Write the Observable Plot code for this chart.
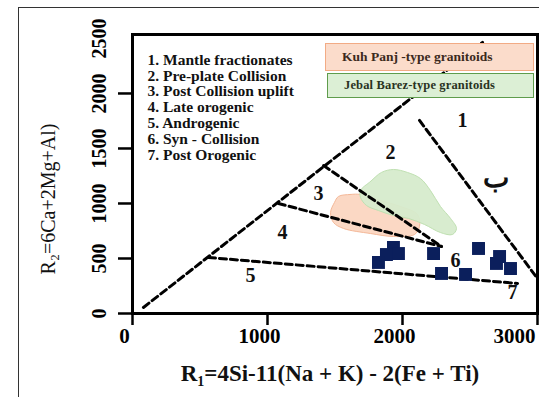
<!DOCTYPE html>
<html>
<head>
<meta charset="utf-8">
<script src="https://cdn.jsdelivr.net/npm/d3@7"></script>
<script src="https://cdn.jsdelivr.net/npm/@observablehq/plot@0.6"></script>
<style>
  html, body { margin: 0; padding: 0; background: #fff; overflow: hidden; }
  #wrap { position: relative; width: 539px; height: 397px; }
  #outer { position: absolute; left: 18px; top: 7px; width: 600px; height: 500px;
           border-left: 1.5px solid #333; border-top: 1.5px solid #333; pointer-events: none; }
  .lg { position: absolute; box-sizing: border-box; font-family: "Liberation Serif", serif;
        font-weight: bold; display: flex; align-items: center; padding-left: 16px; white-space: nowrap; }
  #lgKuh { left: 325px; top: 43px; width: 209px; height: 28px; background: #fbdccb;
           border: 1.5px solid #f2ab85; font-size: 13.5px; color: #3b2a20; }
  #lgJeb { left: 327px; top: 73px; width: 207px; height: 25px; background: #dcefd5;
           border: 1.5px solid #5f9c4c; font-size: 12.5px; letter-spacing: 0.15px; color: #2a3322; }
</style>
</head>
<body>
<div id="wrap"></div>
<script>
// Axis ticks
const xTicks = [0, 1000, 2000, 3000];
const yTickMarks = [0, 500, 1000, 1500, 2000];
const yTickLabels = [0, 500, 1000, 1500, 2000, 2500];

// Field list
const fieldNames = [
  "1. Mantle fractionates",
  "2. Pre-plate Collision",
  "3. Post Collision uplift",
  "4. Late orogenic",
  "5. Androgenic",
  "6. Syn - Collision",
  "7. Post Orogenic"
];
const legendNames = ["Kuh Panj -type granitoids", "Jebal Barez-type granitoids"];

// Field boundaries (R1, R2)
const lineMain = [[81, 55], [2593, 2464]];
const line5 = [[563, 509], [2852, 273]];
const line4 = [[1081, 1000], [2289, 609]];
const line3 = [[1415, 1345], [2289, 609]];
const line1 = [[2126, 1755], [3000, 318]];

// Region labels
const regionLabels = ["1", "2", "3", "4", "5", "6", "7", "ب"];
const regionR1 = [2444, 1911, 1378, 1111, 874, 2393, 2815, 2689];
const regionR2 = [1755, 1464, 1091, 736, 345, 482, 191, 1227];

// Kuh Panj field outline
const kuhR1 = [1526, 1615, 1689, 1837, 1985, 2111, 2126, 2089, 1933, 1763, 1563, 1489, 1467, 1496];
const kuhR2 = [1064, 1082, 1082, 1027, 973, 900, 791, 718, 700, 727, 773, 827, 918, 1009];

// Jebal Barez field outline
const jebR1 = [1689, 1763, 1844, 1933, 2037, 2133, 2207, 2281, 2356, 2400, 2370, 2281, 2163, 2044, 1933, 1822, 1733, 1689];
const jebR2 = [1118, 1200, 1282, 1309, 1282, 1227, 1118, 973, 864, 773, 718, 736, 809, 864, 891, 936, 982, 1055];

// Samples
const sampleR1 = [1933, 1970, 1881, 1822, 2230, 2289, 2467, 2563, 2719, 2696, 2800];
const sampleR2 = [600, 545, 536, 464, 545, 364, 355, 591, 518, 455, 409];

const idx = (a) => a.map((_, i) => i);
const dash = {x: d => d[0], y: d => d[1], stroke: "#000", strokeWidth: 3, strokeDasharray: "7,4"};

const chart = Plot.plot({
  width: 539,
  height: 397,
  marginLeft: 132,
  marginRight: 2,
  marginTop: 34,
  marginBottom: 84,
  x: {domain: [0, 3000]},
  y: {domain: [0, 2536]},
  style: {fontFamily: "Liberation Serif", fontWeight: "bold", background: "transparent"},
  marks: [
    Plot.line(idx(kuhR1), {x: i => kuhR1[i], y: i => kuhR2[i], curve: "catmull-rom-closed",
      fill: "#fbd8c4", stroke: "#f4b898", strokeWidth: 1}),
    Plot.line(idx(jebR1), {x: i => jebR1[i], y: i => jebR2[i], curve: "catmull-rom-closed",
      fill: "#d6ebcc", fillOpacity: 0.95, stroke: "#bfe0b1", strokeWidth: 1}),
    Plot.line(lineMain, dash),
    Plot.line(line5, dash),
    Plot.line(line4, dash),
    Plot.line(line3, dash),
    Plot.line(line1, dash),
    Plot.dot(idx(sampleR1), {x: i => sampleR1[i], y: i => sampleR2[i], symbol: "square", r: 7.3,
      fill: "#0b1f5c", stroke: null}),
    Plot.text(idx(regionLabels), {x: i => regionR1[i], y: i => regionR2[i], text: i => regionLabels[i],
      fontSize: i => regionLabels[i] === "ب" ? 28 : 20, fill: "#111"}),
    Plot.text([fieldNames.join("\n")], {frameAnchor: "top-left", dx: 15, dy: 19, lineAnchor: "top",
      textAnchor: "start", lineHeight: 1.02, fontSize: 15.5, fill: "#111"}),
    Plot.frame({stroke: "#000", strokeWidth: 3}),
    Plot.axisX({ticks: xTicks, tickSize: 12, strokeWidth: 2.5, tickFormat: () => "", label: null}),
    Plot.text(xTicks.slice(0, 3), {x: d => d, frameAnchor: "bottom", dy: 15, dx: -8, lineAnchor: "top",
      fontSize: 21, text: d => String(d)}),
    Plot.text(xTicks.slice(3), {x: d => d, frameAnchor: "bottom", dy: 15, dx: -23, lineAnchor: "top",
      fontSize: 21, text: d => String(d)}),
    Plot.axisY({ticks: yTickMarks, tickSize: 14, strokeWidth: 2.5, tickFormat: () => "", label: null}),
    Plot.text(yTickLabels, {y: d => d, frameAnchor: "left", dx: -33, rotate: -90, fontSize: 20,
      text: d => String(d), textAnchor: "middle", lineAnchor: "middle"}),
    Plot.text(["R\u2081=4Si-11(Na + K) - 2(Fe + Ti)"], {frameAnchor: "bottom", dx: -5, dy: 60,
      fontSize: 23, lineAnchor: "middle", textAnchor: "middle", fill: "#111"}),
    Plot.text(["R\u2082=6Ca+2Mg+Al)"], {frameAnchor: "left", dx: -84, dy: 25, rotate: -90,
      fontSize: 20, fontWeight: "normal", lineAnchor: "middle", textAnchor: "middle", fill: "#111"})
  ]
});

const wrap = document.getElementById("wrap");
wrap.appendChild(chart);
chart.style.position = "absolute";
chart.style.left = "0px";
chart.style.top = "0px";

const outer = document.createElement("div");
outer.id = "outer";
wrap.appendChild(outer);

const lgKuh = document.createElement("div");
lgKuh.className = "lg"; lgKuh.id = "lgKuh"; lgKuh.textContent = legendNames[0];
wrap.appendChild(lgKuh);
const lgJeb = document.createElement("div");
lgJeb.className = "lg"; lgJeb.id = "lgJeb"; lgJeb.textContent = legendNames[1];
wrap.appendChild(lgJeb);
</script>
</body>
</html>
